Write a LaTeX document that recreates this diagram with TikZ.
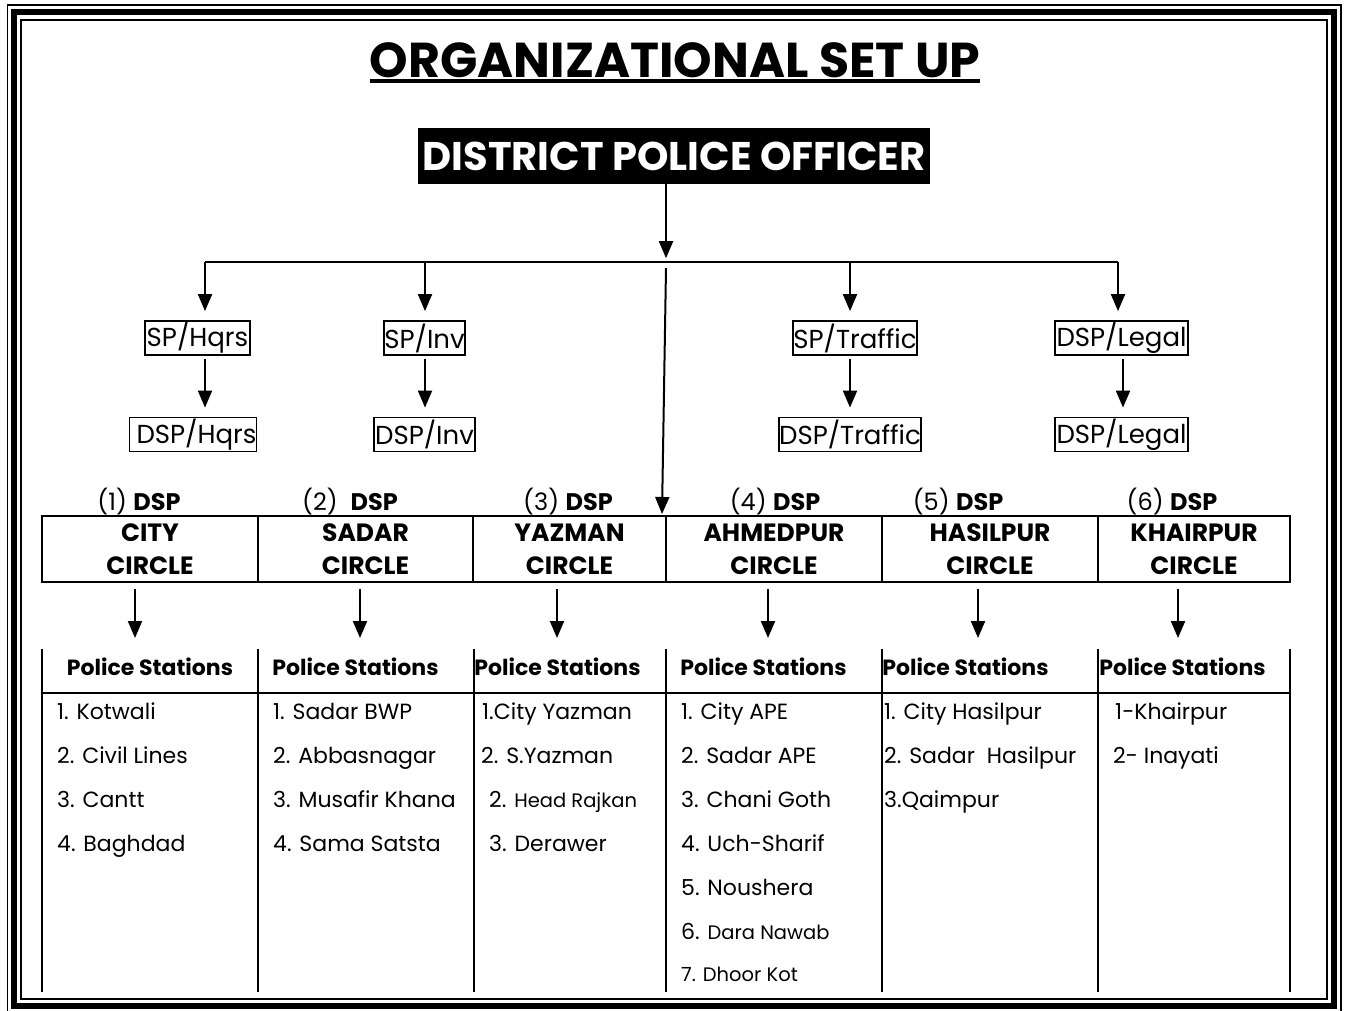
\documentclass[tikz,border=0pt]{standalone}
\usepackage{fontspec}
\setmainfont{Poppins}
\usetikzlibrary{arrows.meta}
\newcommand{\smallps}{\fontsize{19.5}{22}\selectfont}
\begin{document}
\begin{tikzpicture}[x=1pt,y=-1pt,
  arr/.style={line width=2pt,-{Triangle[width=14pt,length=17pt]}},
  ln/.style={line width=2pt},
  ofc/.style={draw,line width=1.8pt,inner sep=0pt,minimum height=34pt,font=\fontsize{26}{30}\selectfont},
  dsplab/.style={font=\fontsize{24}{28}\selectfont,inner sep=0pt,anchor=base},
  cell/.style={draw,line width=2pt,minimum height=66pt,inner sep=0pt,align=center,font=\fontsize{25}{33}\selectfont\bfseries},
  pshead/.style={font=\fontsize{22}{26}\selectfont\bfseries,inner sep=0pt,anchor=base},
  item/.style={font=\fontsize{22}{26}\selectfont,inner sep=0pt,anchor=base west},
]
\useasboundingbox (0,0) rectangle (1347,1010);
% triple border
\draw[line width=1.5pt] (7.5,5) rectangle (1341,1013);
\draw[line width=6pt] (14,12) rectangle (1334,1006);
\draw[line width=2pt] (21,19.5) rectangle (1327,999);
% title
\node[font=\fontsize{49}{53}\selectfont\bfseries,inner sep=0pt,anchor=base] (title) at (675,77) {ORGANIZATIONAL SET UP};
\draw[line width=3.5pt] ([yshift=-4pt]title.base west) -- ([yshift=-4pt]title.base east);
% DPO
\node[fill=black,text=white,minimum width=512pt,minimum height=56pt,inner sep=0pt,font=\fontsize{40}{44}\selectfont\bfseries] (dpo) at (674,156) {DISTRICT POLICE OFFICER};
\draw[arr] ([xshift=-8pt]dpo.south) -- ++(0,74);
% branch line
\coordinate (hl) at (205,262);
\coordinate (hi) at (425,262);
\coordinate (ht) at (850,262);
\coordinate (hr) at (1118,262);
\draw[ln] (hl) -- (hr);
% officer boxes
\node[ofc,minimum width=105pt] (sphq) at (197.5,338) {SP/Hqrs};
\node[ofc,minimum width=81pt] (spinv) at (424.5,338) {SP/Inv};
\node[ofc,minimum width=120pt] (sptr) at (855,338) {SP/Traffic};
\node[ofc,minimum width=133pt] (dlg1) at (1121.5,338) {DSP/Legal};
\node[ofc,minimum width=124pt] (dsphq) at (193,434.5) {\ DSP/Hqrs};
\node[ofc,minimum width=101pt] (dspinv) at (424.5,434.5) {DSP/Inv};
\node[ofc,minimum width=140pt] (dsptr) at (850,434.5) {DSP/Traffic};
\node[ofc,minimum width=133pt] (dlg2) at (1121.5,434.5) {DSP/Legal};
\draw[arr,shorten >=9pt] (hl) -- (hl |- sphq.north);
\draw[arr,shorten >=9pt] (hi) -- (hi |- spinv.north);
\draw[arr,shorten >=9pt] (ht) -- (ht |- sptr.north);
\draw[arr,shorten >=9pt] (hr) -- (hr |- dlg1.north);
\draw[arr,shorten <=3pt,shorten >=9pt] (sphq.south -| hl) -- (dsphq.north -| hl);
\draw[arr,shorten <=3pt,shorten >=9pt] (spinv.south -| hi) -- (dspinv.north -| hi);
\draw[arr,shorten <=3pt,shorten >=9pt] (sptr.south -| ht) -- (dsptr.north -| ht);
\draw[arr,shorten <=3pt,shorten >=9pt] ([xshift=1.5pt]dlg1.south) -- ([xshift=1.5pt]dlg2.north);
% long central arrow
\coordinate (cs) at (666,268);
\coordinate (ce) at (662,514);
\draw[arr] (cs) -- (ce);
% DSP labels
\node[dsplab] (d1) at (139,510) {(1) \textbf{DSP}};
\node[dsplab] (d2) at (350,510) {(2)\ \ \textbf{DSP}};
\node[dsplab] (d3) at (568,510) {(3) \textbf{DSP}};
\node[dsplab] (d4) at (775,510) {(4) \textbf{DSP}};
\node[dsplab] (d5) at (958,510) {(5) \textbf{DSP}};
\node[dsplab] (d6) at (1172,510) {(6) \textbf{DSP}};
% circles
\node[cell,minimum width=216pt] (c1) at (150,549) {CITY\\CIRCLE};
\node[cell,minimum width=215pt] (c2) at (365.5,549) {SADAR\\CIRCLE};
\node[cell,minimum width=193pt] (c3) at (569.5,549) {YAZMAN\\CIRCLE};
\node[cell,minimum width=216pt] (c4) at (774,549) {AHMEDPUR\\CIRCLE};
\node[cell,minimum width=216pt] (c5) at (990,549) {HASILPUR\\CIRCLE};
\node[cell,minimum width=192pt] (c6) at (1194,549) {KHAIRPUR\\CIRCLE};
% arrows to police stations
\draw[arr] ([xshift=-15pt,yshift=-6pt]c1.south) -- ([xshift=-15pt,yshift=-55pt]c1.south);
\draw[arr] ([xshift=-5.5pt,yshift=-6pt]c2.south) -- ([xshift=-5.5pt,yshift=-55pt]c2.south);
\draw[arr] ([xshift=-12.5pt,yshift=-6pt]c3.south) -- ([xshift=-12.5pt,yshift=-55pt]c3.south);
\draw[arr] ([xshift=-6pt,yshift=-6pt]c4.south) -- ([xshift=-6pt,yshift=-55pt]c4.south);
\draw[arr] ([xshift=-12pt,yshift=-6pt]c5.south) -- ([xshift=-12pt,yshift=-55pt]c5.south);
\draw[arr] ([xshift=-16pt,yshift=-6pt]c6.south) -- ([xshift=-16pt,yshift=-55pt]c6.south);
% police station table
\foreach \xx in {42,258,474,666,882,1098,1290} \draw[ln] (\xx,649) -- (\xx,992);
\draw[ln] (41,693) -- (1291,693);
\node[pshead] (p1) at (150,675) {Police Stations};
\node[pshead] (p2) at (355.5,675) {Police Stations};
\node[pshead] (p3) at (557.5,675) {Police Stations};
\node[pshead] (p4) at (763.5,675) {Police Stations};
\node[pshead] (p5) at (965.5,675) {Police Stations};
\node[pshead] (p6) at (1182.5,675) {Police Stations};
% lists
\node[item] (a1) at (57,719) {1. Kotwali};
\node[item] (a2) at (57,763) {2. Civil Lines};
\node[item] (a3) at (57,807) {3. Cantt};
\node[item] (a4) at (57,851) {4. Baghdad};
\node[item] (b1) at (273,719) {1. Sadar BWP};
\node[item] (b2) at (273,763) {2. Abbasnagar};
\node[item] (b3) at (273,807) {3. Musafir Khana};
\node[item] (b4) at (273,851) {4. Sama Satsta};
\node[item] (e1) at (482,719) {1.City Yazman};
\node[item] (e2) at (481,763) {2. S.Yazman};
\node[item] (e3) at (489,807) {2. {\smallps Head Rajkan}};
\node[item] (e4) at (489,851) {3. Derawer};
\node[item] (f1) at (681,719) {1. City APE};
\node[item] (f2) at (681,763) {2. Sadar APE};
\node[item] (f3) at (681,807) {3. Chani Goth};
\node[item] (f4) at (681,851) {4. Uch-Sharif};
\node[item] (f5) at (681,895) {5. Noushera};
\node[item] (f6) at (681,939) {6. {\smallps Dara Nawab}};
\node[item,font=\smallps] (f7) at (681,981) {7. Dhoor Kot};
\node[item] (g1) at (884,719) {1. City Hasilpur};
\node[item] (g2) at (884,763) {2. Sadar\ \ Hasilpur};
\node[item] (g3) at (884,807) {3.Qaimpur};
\node[item] (h1) at (1115,719) {1-Khairpur};
\node[item] (h2) at (1113,763) {2- Inayati};
\end{tikzpicture}
\end{document}
